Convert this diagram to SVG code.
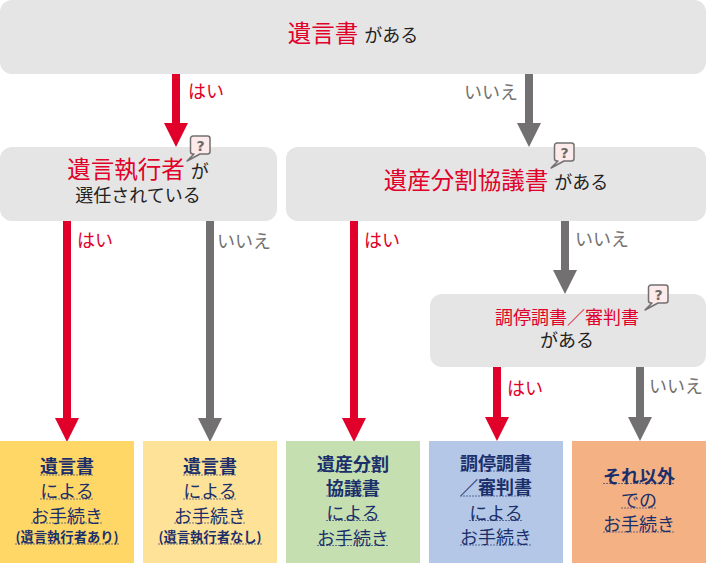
<svg xmlns="http://www.w3.org/2000/svg" width="715" height="563" viewBox="0 0 715 563">
<style>
text{font-family:"Noto Sans CJK JP","Noto Sans",sans-serif;text-anchor:middle}
.q{fill:#e5e5e5}
.r{fill:#e00029}
.k{fill:#222}
.yes{fill:#e00029;font-size:18px;text-anchor:start}
.no{fill:#727071;font-size:18px;text-anchor:start}
.a-r{fill:#e00029}
.a-g{fill:#727071}
.l{fill:#1b2f6b;font-size:18px}
.b{font-weight:700}
.s{font-size:13.300px;font-weight:700}
.u{stroke:#1b2f6b;stroke-width:1;stroke-dasharray:2 1;opacity:.6;fill:none}
.bub{fill:#fdeaea;stroke:#727071;stroke-width:1.500;stroke-linejoin:round}
.qm{fill:#6a6869;font-size:14px;font-weight:700;font-family:"DejaVu Sans",sans-serif}
</style>
<defs>
<g id="help">
<path class="bub" d="M2.500 0h14a2.500 2.500 0 0 1 2.500 2.500v13a2.500 2.500 0 0 1-2.500 2.500h-7.500l-13 7 7-7h-1a2.500 2.500 0 0 1-2.500-2.500v-13a2.500 2.500 0 0 1 2.500-2.500z"/>
<text class="qm" x="9.500" y="14.500">?</text>
</g>
</defs>

<g id="connectors">
<path class="a-r" d="M172 74h8v49h8l-12 24-12-24h8z"/>
<path class="a-g" d="M525 74h8v49h8l-12 24-12-24h8z"/>
<path class="a-r" d="M63 221h8v197h8l-12 24-12-24h8z"/>
<path class="a-g" d="M206 221h8v197h8l-12 24-12-24h8z"/>
<path class="a-r" d="M350 221h8v197h8l-12 24-12-24h8z"/>
<path class="a-g" d="M561 221h8v49h8l-12 24-12-24h8z"/>
<path class="a-r" d="M493 367h8v50h8l-12 24-12-24h8z"/>
<path class="a-g" d="M636 367h8v50h8l-12 24-12-24h8z"/>
<text class="yes" x="188" y="98">はい</text>
<text class="no" x="464" y="99">いいえ</text>
<text class="yes" x="77" y="247">はい</text>
<text class="no" x="217" y="248">いいえ</text>
<text class="yes" x="364" y="247">はい</text>
<text class="no" x="575" y="246">いいえ</text>
<text class="yes" x="507" y="395">はい</text>
<text class="no" x="649" y="393">いいえ</text>
</g>

<g id="q-will">
<rect class="q" x="0" y="0" width="706" height="74" rx="12"/>
<text x="353" y="42"><tspan class="r" font-size="23.500">遺言書</tspan><tspan class="k" font-size="18" dx="6">がある</tspan></text>
</g>

<g id="q-executor">
<rect class="q" x="0" y="147" width="277" height="74" rx="12"/>
<text x="138" y="178"><tspan class="r" font-size="23.500">遺言執行者</tspan><tspan class="k" font-size="18" dx="6">が</tspan></text>
<text class="k" x="138" y="202" font-size="18">選任されている</text>
<use href="#help" x="191" y="136"/>
</g>

<g id="q-agreement">
<rect class="q" x="286" y="147" width="420" height="74" rx="12"/>
<text x="496" y="189"><tspan class="r" font-size="23.500">遺産分割協議書</tspan><tspan class="k" font-size="18" dx="6">がある</tspan></text>
<use href="#help" x="555" y="143"/>
</g>

<g id="q-mediation">
<rect class="q" x="430" y="294" width="276" height="73" rx="12"/>
<text class="r" x="567" y="324" font-size="18">調停調書／審判書</text>
<text class="k" x="567" y="347" font-size="18">がある</text>
<use href="#help" x="649" y="285"/>
</g>

<g id="leaf-will-executor">
<rect x="0" y="441" width="134" height="122" fill="#fed767"/>
<text class="l b" x="67" y="473">遺言書</text><path class="u" d="M40 475h54"/>
<text class="l" x="67" y="498">による</text><path class="u" d="M40 499h54"/>
<text class="l" x="67" y="523">お手続き</text><path class="u" d="M31 523h72"/>
<text class="l s" x="67" y="542">(遺言執行者あり)</text><path class="u" d="M15 544h104"/>
</g>

<g id="leaf-will-no-executor">
<rect x="143" y="441" width="134" height="122" fill="#fee297"/>
<text class="l b" x="210" y="473">遺言書</text><path class="u" d="M183 475h54"/>
<text class="l" x="210" y="498">による</text><path class="u" d="M183 499h54"/>
<text class="l" x="210" y="523">お手続き</text><path class="u" d="M174 523h72"/>
<text class="l s" x="210" y="542">(遺言執行者なし)</text><path class="u" d="M158 544h104"/>
</g>

<g id="leaf-agreement">
<rect x="286" y="441" width="134" height="122" fill="#c5dfb1"/>
<text class="l b" x="353" y="471">遺産分割</text><path class="u" d="M317 471.500h72"/>
<text class="l b" x="353" y="495">協議書</text><path class="u" d="M326 496h54"/>
<text class="l" x="353" y="520">による</text><path class="u" d="M326 520.500h54"/>
<text class="l" x="353" y="545">お手続き</text><path class="u" d="M317 545.500h72"/>
</g>

<g id="leaf-mediation">
<rect x="429" y="441" width="134" height="122" fill="#b4c7e6"/>
<text class="l b" x="496" y="470">調停調書</text><path class="u" d="M460 471h72"/>
<text class="l b" x="496" y="494">／審判書</text><path class="u" d="M460 496h72"/>
<text class="l" x="496" y="520">による</text><path class="u" d="M469 520.500h54"/>
<text class="l" x="496" y="544">お手続き</text><path class="u" d="M460 545h72"/>
</g>

<g id="leaf-other">
<rect x="572" y="441" width="134" height="122" fill="#f4b183"/>
<text class="l b" x="639" y="483">それ以外</text><path class="u" d="M603 483.500h72"/>
<text class="l" x="639" y="507">での</text><path class="u" d="M621 508h36"/>
<text class="l" x="639" y="531">お手続き</text><path class="u" d="M603 532h72"/>
</g>
</svg>
